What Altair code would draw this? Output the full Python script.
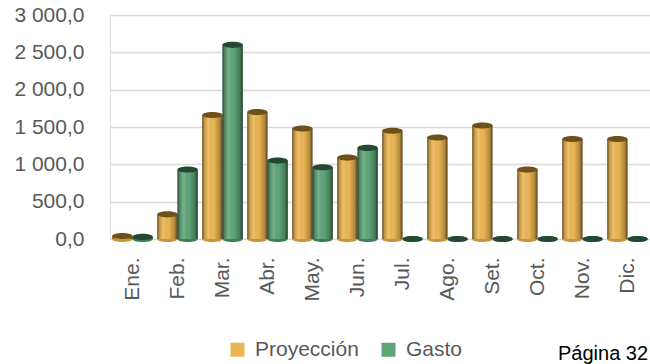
import altair as alt
import pandas as pd

# Monthly values (thousands)
meses = ["Ene.", "Feb.", "Mar.", "Abr.", "May.", "Jun.",
         "Jul.", "Ago.", "Set.", "Oct.", "Nov.", "Dic."]
proyeccion = [40, 330, 1660, 1700, 1480, 1090, 1450, 1360, 1520, 930, 1340, 1340]
gasto = [28, 930, 2600, 1050, 960, 1220, 0, 0, 0, 0, 0, 0]
series = ["Proyección", "Gasto"]
colores = ["#EDB653", "#5EA678"]
tapas = ["#6E5019", "#234A30"]

df = pd.DataFrame({
    "mes": meses * 2,
    "serie": [series[0]] * len(meses) + [series[1]] * len(meses),
    "valor": proyeccion + gasto,
})

FONT = "Liberation Sans"
GRAY = "#595959"
FS = 21

x = alt.X("mes:N", sort=meses, title=None,
          scale=alt.Scale(paddingInner=0.1, paddingOuter=0.05),
          axis=alt.Axis(labelAngle=-90, labelFontSize=FS, labelColor=GRAY,
                        labelFont=FONT, ticks=False, domain=False,
                        labelPadding=18, grid=False, labelOverlap=False))
xo = alt.XOffset("serie:N", scale=alt.Scale(domain=series))
yscale = alt.Scale(domain=[0, 3000], nice=False)
yaxis = alt.Axis(values=[0, 500, 1000, 1500, 2000, 2500, 3000],
                 format=",.1f", labelFontSize=FS, labelColor=GRAY,
                 labelFont=FONT, ticks=False, domain=False,
                 labelOverlap=False, labelFlush=False,
                 labelPadding=26, gridColor="#D9D9D9", gridWidth=1.6)
y = alt.Y("valor:Q", title=None, scale=yscale, axis=yaxis)

ellipse = "M-1,0A1,0.3,0,1,0,1,0A1,0.3,0,1,0,-1,0Z"
is_proy = "datum.serie === 'Proyección'"

base = alt.Chart(df)

# rounded bottom of each cylinder
fondo = base.mark_point(shape=ellipse, size=410, filled=True, opacity=1,
                        strokeWidth=0).encode(
    x=x, xOffset=xo,
    y=alt.Y("zero:Q", title=None, scale=yscale, axis=yaxis),
    fill=alt.condition(is_proy, alt.value("#C9953A"), alt.value("#3F7F55")),
).transform_calculate(zero="0")

barras = base.mark_bar(width={"band": 1}).encode(
    x=x, xOffset=xo, y=y,
    color=alt.Color("serie:N", scale=alt.Scale(domain=series, range=colores),
                    sort=series,
                    legend=alt.Legend(orient="none", legendX=117, legendY=324,
                                      direction="horizontal", title=None,
                                      symbolType="square", symbolSize=196,
                                      symbolStrokeWidth=0,
                                      labelFontSize=FS, labelColor=GRAY,
                                      labelFont=FONT, columnPadding=19,
                                      labelOffset=7)),
)

# cylinder shading
sombra = base.mark_bar(
    color=alt.LinearGradient(
        gradient="linear", x1=0, x2=1, y1=0, y2=0,
        stops=[
            alt.GradientStop(color="rgba(0,0,0,0.62)", offset=0),
            alt.GradientStop(color="rgba(0,0,0,0.2)", offset=0.1),
            alt.GradientStop(color="rgba(255,255,255,0.15)", offset=0.32),
            alt.GradientStop(color="rgba(0,0,0,0)", offset=0.55),
            alt.GradientStop(color="rgba(0,0,0,0.25)", offset=0.86),
            alt.GradientStop(color="rgba(0,0,0,0.65)", offset=1),
        ],
    )
).encode(x=x, xOffset=xo, y=y)

# top face of each cylinder
tapa = base.mark_point(shape=ellipse, size=410, filled=True, opacity=1,
                       strokeWidth=0).encode(
    x=x, xOffset=xo, y=y,
    fill=alt.condition(is_proy, alt.value(tapas[0]), alt.value(tapas[1])),
)

pagina = alt.Chart(pd.DataFrame({"t": ["Página 32"]})).mark_text(
    align="left", baseline="alphabetic", fontSize=20,
    font=FONT, color="black"
).encode(x=alt.value(448), y=alt.value(345), text="t:N")

chart = alt.layer(fondo, barras, sombra, tapa, pagina).properties(
    width=540, height=224, autosize="none",
    padding={"left": 110, "top": 15, "right": 0, "bottom": 125},
).configure_view(stroke=None).configure_axis(
    labelOverlap=False
).configure(background="white")

chart.save("out.html", embed_options={
    "renderer": "svg", "actions": False,
    "formatLocale": {"decimal": ",", "thousands": " ", "grouping": [3],
                     "currency": ["", ""]},
})
